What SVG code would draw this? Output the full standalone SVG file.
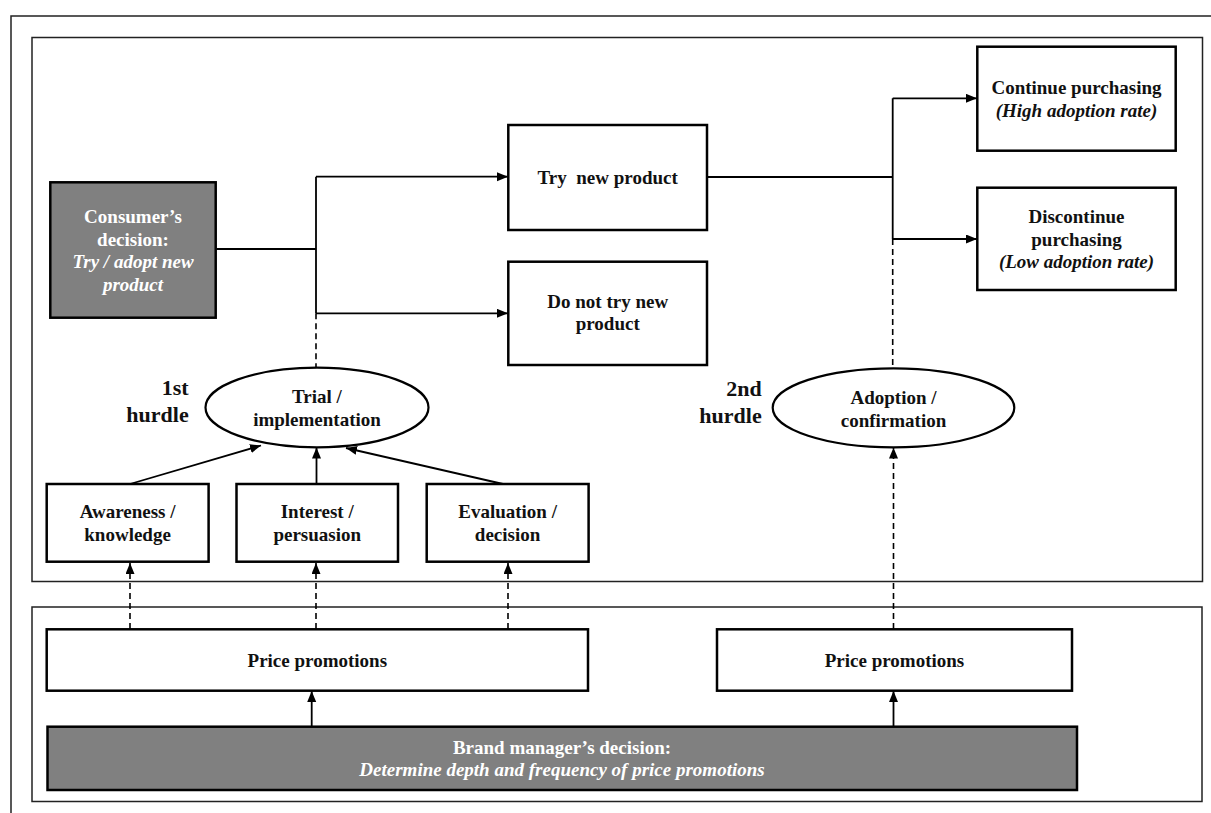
<svg xmlns="http://www.w3.org/2000/svg" width="1211" height="813" viewBox="0 0 1211 813">
<defs>
<marker id="ah" markerUnits="userSpaceOnUse" markerWidth="12" markerHeight="10" refX="11" refY="4.5" orient="auto">
<path d="M0,0 L11,4.5 L0,9 z" fill="#000"/>
</marker>
<style>
.frame{fill:none;stroke:#222;stroke-width:1.5}
.box{fill:#fff;stroke:#000;stroke-width:2.5}
.dark{fill:#808080;stroke:#000;stroke-width:2.5}
.ell{fill:#fff;stroke:#000;stroke-width:2.2}
.t{font-family:"Liberation Serif","Times New Roman",serif;font-weight:bold;font-size:19px;fill:#111;text-anchor:middle}
.w{fill:#fff}
.i{font-style:italic}
.h{font-size:22px;text-anchor:end}
.ln{fill:none;stroke:#000;stroke-width:1.8}
.ds{fill:none;stroke:#000;stroke-width:1.6;stroke-dasharray:6 4}
</style>
</defs>
<rect width="1211" height="813" fill="#fff"/>
<rect class="frame" x="11" y="16" width="1230" height="820"/>
<rect class="frame" x="32" y="37.5" width="1170.5" height="544"/>
<rect class="frame" x="32" y="607" width="1170" height="194.5"/>

<g id="connectors">
<path class="ln" d="M215.7,249 H316 M316,176.7 V313.3"/>
<path class="ln" d="M316,176.7 H508" marker-end="url(#ah)"/>
<path class="ln" d="M316,313.3 H508" marker-end="url(#ah)"/>
<path class="ds" d="M316,313.3 V367.7"/>
<path class="ln" d="M707,177 H892.7 M892.7,98.3 V239"/>
<path class="ln" d="M892.7,98.3 H977" marker-end="url(#ah)"/>
<path class="ln" d="M892.7,239 H977" marker-end="url(#ah)"/>
<path class="ds" d="M892.7,239 V368.3"/>
<path class="ln" d="M130,484 L261,445.5" marker-end="url(#ah)"/>
<path class="ln" d="M316.5,484 V447.5" marker-end="url(#ah)"/>
<path class="ln" d="M503,484 L346,448" marker-end="url(#ah)"/>
<path class="ds" d="M130,629 V563" marker-end="url(#ah)"/>
<path class="ds" d="M316,629 V563" marker-end="url(#ah)"/>
<path class="ds" d="M508,629 V563" marker-end="url(#ah)"/>
<path class="ds" d="M893.5,629 V447.5" marker-end="url(#ah)"/>
<path class="ln" d="M311.7,726.7 V691" marker-end="url(#ah)"/>
<path class="ln" d="M893.5,726.7 V691" marker-end="url(#ah)"/>
</g>

<g id="consumer">
<rect class="dark" x="50.3" y="182.3" width="165.4" height="135.4"/>
<text class="t w" x="133" y="222.7">Consumer’s</text>
<text class="t w" x="133" y="246">decision:</text>
<text class="t w i" x="133" y="268.3">Try / adopt new</text>
<text class="t w i" x="133" y="290.7">product</text>
</g>

<g id="try">
<rect class="box" x="508.3" y="125" width="198.7" height="105"/>
<text class="t" x="607.7" y="184" xml:space="preserve">Try  new product</text>
</g>

<g id="donottry">
<rect class="box" x="508.3" y="261.7" width="198.7" height="103.3"/>
<text class="t" x="607.7" y="308">Do not try new</text>
<text class="t" x="607.7" y="330">product</text>
</g>

<g id="continue">
<rect class="box" x="977.3" y="46.7" width="198.4" height="104"/>
<text class="t" x="1076.5" y="94.3">Continue purchasing</text>
<text class="t i" x="1076.5" y="116.7">(High adoption rate)</text>
</g>

<g id="discontinue">
<rect class="box" x="977.3" y="187.7" width="198.4" height="102.3"/>
<text class="t" x="1076.5" y="223.3">Discontinue</text>
<text class="t" x="1076.5" y="245.7">purchasing</text>
<text class="t i" x="1076.5" y="267.7">(Low adoption rate)</text>
</g>

<g id="trial">
<ellipse class="ell" cx="317" cy="407.5" rx="111.5" ry="39.8"/>
<text class="t" x="317" y="403">Trial /</text>
<text class="t" x="317" y="425.7">implementation</text>
</g>

<g id="hurdle1">
<text class="t h" x="188.7" y="395">1st</text>
<text class="t h" x="188.7" y="422">hurdle</text>
</g>

<g id="adoption">
<ellipse class="ell" cx="893.5" cy="407.8" rx="120.8" ry="39.5"/>
<text class="t" x="893.5" y="404">Adoption /</text>
<text class="t" x="893.5" y="426.7">confirmation</text>
</g>

<g id="hurdle2">
<text class="t h" x="761.7" y="396">2nd</text>
<text class="t h" x="761.7" y="423">hurdle</text>
</g>

<g id="awareness">
<rect class="box" x="46.7" y="484" width="161.9" height="77.7"/>
<text class="t" x="127.6" y="518.3">Awareness /</text>
<text class="t" x="127.6" y="540.7">knowledge</text>
</g>

<g id="interest">
<rect class="box" x="236.5" y="484" width="161.5" height="77.7"/>
<text class="t" x="317.2" y="518.3">Interest /</text>
<text class="t" x="317.2" y="540.7">persuasion</text>
</g>

<g id="evaluation">
<rect class="box" x="426.7" y="484" width="161.9" height="77.7"/>
<text class="t" x="507.6" y="518.3">Evaluation /</text>
<text class="t" x="507.6" y="540.7">decision</text>
</g>

<g id="price1">
<rect class="box" x="46.7" y="629.3" width="541.3" height="61.4"/>
<text class="t" x="317.3" y="666.7">Price promotions</text>
</g>

<g id="price2">
<rect class="box" x="717" y="629.3" width="355" height="61.4"/>
<text class="t" x="894.5" y="666.7">Price promotions</text>
</g>

<g id="brand">
<rect class="dark" x="47.5" y="726.7" width="1029.5" height="63.3"/>
<text class="t w" x="562" y="754">Brand manager’s decision:</text>
<text class="t w i" x="562" y="776">Determine depth and frequency of price promotions</text>
</g>
</svg>
